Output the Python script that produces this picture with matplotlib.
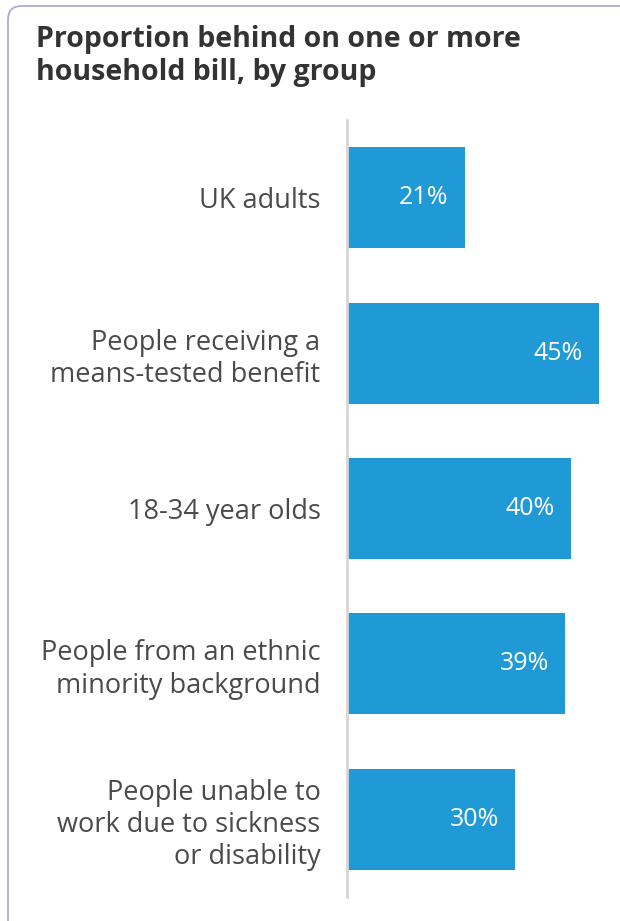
import matplotlib
matplotlib.use("Agg")
import matplotlib.pyplot as plt
from matplotlib.patches import FancyBboxPatch

# datos
groups = [
    "UK adults",
    "People receiving a\nmeans-tested benefit",
    "18-34 year olds",
    "People from an ethnic\nminority background",
    "People unable to\nwork due to sickness\nor disability",
]
values = [21, 45, 40, 39, 30]

title = "Proportion behind on one or more\nhousehold bill, by group"

BLUE = "#1f9ad7"
TEXT = "#4a4a4a"
W, H = 620, 921

plt.rcParams["font.family"] = ["Open Sans", "DejaVu Sans"]

fig = plt.figure(figsize=(W / 100, H / 100), dpi=100, facecolor="white")

# marco redondeado (cortado por la derecha y abajo)
frame = FancyBboxPatch((8 / W, 1 - 940 / H), 640 / W, 934 / H,
                       boxstyle="round,pad=0,rounding_size=0.022",
                       transform=fig.transFigure, fc="none",
                       ec="#b5a8d6", lw=1.3, mutation_aspect=W / H)
fig.patches.append(frame)

fig.text(36 / W, 1 - 56 / H, title, ha="left", va="center",
         fontsize=20.5, fontweight="bold", color="#333333",
         linespacing=1.22)

ax = fig.add_axes([347 / W, 24 / H, 268.8 / W, 777 / H])
ypos = list(range(len(groups)))
bars = ax.barh(ypos, values, height=0.65, color=BLUE)
ax.set_xlim(0, 48)
ax.set_ylim(len(groups) - 0.5, -0.5)

for y, v in zip(ypos, values):
    ax.text(v - 2.9, y, f"{v}%", ha="right", va="center",
            fontsize=18, color="white")

ax.set_yticks(ypos)
ax.set_yticklabels(groups, fontsize=19.5, color=TEXT, linespacing=1.2)
ax.tick_params(axis="y", length=0, pad=19)
ax.set_xticks([])
for s in ["top", "right", "bottom"]:
    ax.spines[s].set_visible(False)
ax.spines["left"].set_color("#d6d6d6")
ax.spines["left"].set_linewidth(2)

plt.savefig("out.png", dpi=100, facecolor="white")
